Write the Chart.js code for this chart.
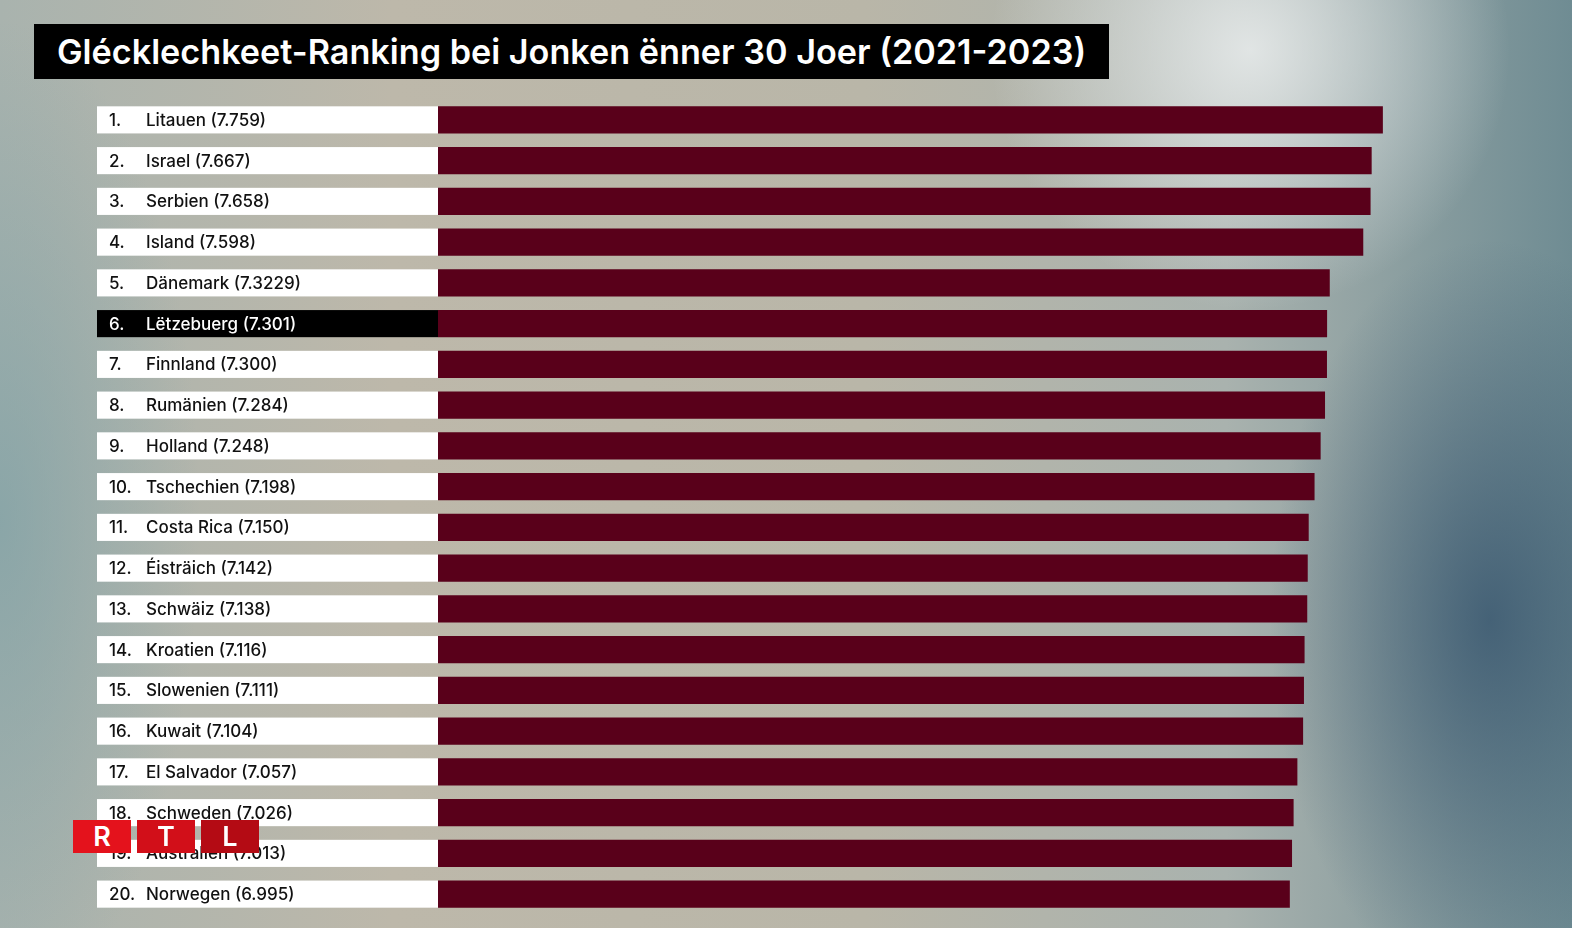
<!DOCTYPE html>
<html>
<head>
<meta charset="utf-8">
<script src="https://cdn.jsdelivr.net/npm/chart.js@4/dist/chart.umd.min.js"></script>
<style>
  html, body { margin: 0; padding: 0; }
  body {
    width: 1572px; height: 928px; overflow: hidden; position: relative;
    background:
      radial-gradient(ellipse 220px 380px at 1490px 620px, rgba(55,85,110,0.8), rgba(55,85,110,0) 100%),
      radial-gradient(ellipse 260px 260px at 1250px 50px, rgba(235,238,238,0.85), rgba(235,238,238,0) 100%),
      radial-gradient(ellipse 200px 500px at 0px 520px, rgba(125,160,165,0.7), rgba(125,160,165,0) 100%),
      linear-gradient(90deg, #a9b3ae 0%, #bdb8aa 25%, #b9b6a8 55%, #a9b2ae 78%, #6f8c93 100%);
  }
  #title {
    position: absolute; left: 34px; top: 24px; width: 1075px; height: 55px;
    background: #000; color: #fff; box-sizing: border-box; padding-left: 23px;
    font-family: Inter, sans-serif; font-weight: 600; font-size: 34.2px; line-height: 55px;
    white-space: nowrap;
  }
  #logo { position: absolute; left: 73px; top: 820px; }
  #logo div {
    position: absolute; top: 0; width: 58px; height: 33px; color: #fff;
    font-family: Inter, sans-serif; font-weight: 600; font-size: 27px; line-height: 33px; text-align: center;
  }
</style>
</head>
<body>
<div id="title">Glécklechkeet-Ranking bei Jonken ënner 30 Joer (2021-2023)</div>
<canvas id="myChart" width="1572" height="928" style="position:absolute;left:0;top:0"></canvas>
<div id="logo">
  <div style="left:0;background:#e4121c">R</div>
  <div style="left:64px;background:#d20f19">T</div>
  <div style="left:128px;background:#b40b14">L</div>
</div>
<script>
'use strict';
// countries in ranking order
let countries = ['Litauen', 'Israel', 'Serbien', 'Island', 'Dänemark', 'Lëtzebuerg', 'Finnland', 'Rumänien', 'Holland', 'Tschechien',
  'Costa Rica', 'Éisträich', 'Schwäiz', 'Kroatien', 'Slowenien', 'Kuwait', 'El Salvador', 'Schweden', 'Australien', 'Norwegen'];
// happiness score
let scores = [7.759, 7.667, 7.658, 7.598, 7.3229, 7.301, 7.300, 7.284, 7.248, 7.198,
  7.150, 7.142, 7.138, 7.116, 7.111, 7.104, 7.057, 7.026, 7.013, 6.995];
// labels as printed in the picture
let scoreLabels = ['7.759', '7.667', '7.658', '7.598', '7.3229', '7.301', '7.300', '7.284', '7.248', '7.198',
  '7.150', '7.142', '7.138', '7.116', '7.111', '7.104', '7.057', '7.026', '7.013', '6.995'];
let highlight = 'Lëtzebuerg';

let labelBoxes = {
  id: 'labelBoxes',
  afterDatasetsDraw(chart) {
    let ctx = chart.ctx;
    let yScale = chart.scales.y;
    let meta = chart.getDatasetMeta(0);
    ctx.save();
    for (let i = 0; i < countries.length; i++) {
      let y = yScale.getPixelForValue(i);
      let h = meta.data[i].height;
      let dark = countries[i] === highlight;
      ctx.fillStyle = dark ? '#000' : '#fff';
      ctx.fillRect(97, y - h / 2, chart.chartArea.left - 97, h);
      ctx.fillStyle = dark ? '#fff' : '#111';
      ctx.font = '500 17px Inter, sans-serif';
      ctx.textBaseline = 'middle';
      ctx.textAlign = 'left';
      ctx.fillText((i + 1) + '.', 109, y + 1);
      ctx.fillText(countries[i] + ' (' + scoreLabels[i] + ')', 146, y + 1);
    }
    ctx.restore();
  }
};

let ctx = document.getElementById('myChart').getContext('2d');
let myChart = new Chart(ctx, {
  type: 'bar',
  data: {
    labels: countries,
    datasets: [{
      data: scores,
      backgroundColor: '#59001a',
      borderWidth: 0,
      categoryPercentage: 1,
      barPercentage: 0.665
    }]
  },
  options: {
    indexAxis: 'y',
    responsive: false,
    animation: false,
    layout: { padding: { left: 438, right: 38, top: 99.5, bottom: 13.5 } },
    plugins: { legend: { display: false }, tooltip: { enabled: false } },
    scales: {
      x: { display: false, min: 0, max: 9 },
      y: { display: false }
    }
  },
  plugins: [labelBoxes]
});
</script>
</body>
</html>
